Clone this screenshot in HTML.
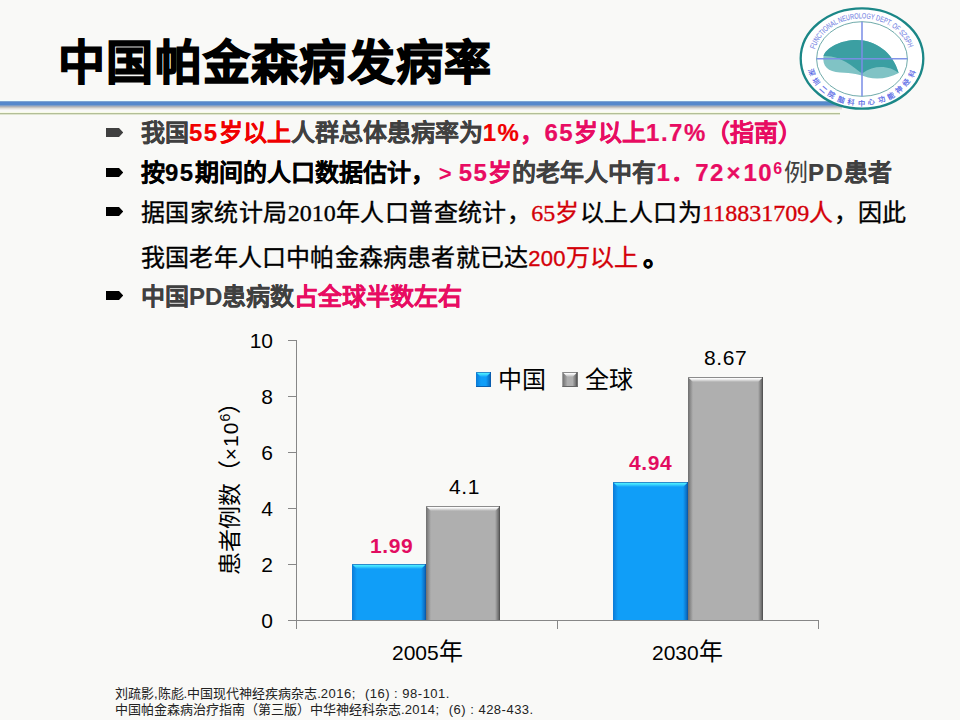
<!DOCTYPE html>
<html lang="zh-CN"><head><meta charset="utf-8">
<style>
html,body{margin:0;padding:0;}
body{width:960px;height:720px;position:relative;overflow:hidden;background:#f9f9f7;font-family:"Liberation Sans",sans-serif;}
.a{position:absolute;white-space:nowrap;}
#title{left:58px;top:32.5px;font-size:47px;font-weight:bold;color:#000;line-height:60px;letter-spacing:1.3px;-webkit-text-stroke:1.3px #000;}
.band{position:absolute;left:0;top:100px;width:842px;height:10px;background:linear-gradient(#f0ffff 0 1px,#7ea4d2 1px 2px,#5589cc 2px 5px,#7e9fc6 5px 6px,#a8b0bd 6px 7px,#c8c8c4 7px 8px,#e0e0dc 8px 9px,#eeeeeb 9px 10px);}
.olive{position:absolute;left:0;top:112px;width:840px;height:3px;background:linear-gradient(#f7fbe6 0 1px,#b3be97 1px 2px,#dfe5cf 2px 3px);}
.ln{position:absolute;left:141px;font-size:24px;line-height:30px;white-space:nowrap;}
.b{font-weight:bold;-webkit-text-stroke:0.2px currentColor;}
.l{letter-spacing:1.5px;}
.g{color:#404040;}
.k{color:#000;}
.r{color:#f00000;}
.p{color:#e80c62;}
.ser{font-family:"Liberation Serif",serif;letter-spacing:0.45px;-webkit-text-stroke:0.35px currentColor;}
.d{letter-spacing:0;}
.r2{color:#d40008;}
.bul{position:absolute;left:106px;width:17px;height:9px;}
.ax{position:absolute;background:#878787;}
.yl{position:absolute;font-size:21px;color:#000;text-align:right;width:40px;line-height:20px;}
.vl{font-size:21px;line-height:24px;letter-spacing:0.6px;}
.lg{font-size:24px;line-height:28px;color:#000;}
.cl{font-size:21px;line-height:24px;color:#000;}
.cj{font-size:24px;}
.yt{font-size:23px;line-height:24px;color:#000;transform:translate(-50%,-50%) rotate(-90deg);}
.ref{position:absolute;left:115px;font-size:13px;color:#222;line-height:16px;white-space:nowrap;}
</style></head>
<body>
<div id="title" class="a">中国帕金森病发病率</div>
<div class="band"></div>
<div class="olive"></div>


<!-- logo -->
<svg class="a" style="left:0;top:0" width="960" height="130" viewBox="0 0 960 130">
<defs>
<path id="tp" d="M814.9 49.2 A48.5 40.5 0 0 1 909.1 49.2"/>
<path id="bp" d="M808.1 70.2 A55.5 46.5 0 0 0 915.9 70.2"/>
<clipPath id="inner"><ellipse cx="862" cy="59" rx="45.4" ry="37.3"/></clipPath>
</defs>
<ellipse cx="862" cy="58.5" rx="61.3" ry="50.2" fill="#fff" stroke="#1b8787" stroke-width="2.3"/>
<ellipse cx="862" cy="59" rx="45.4" ry="37.3" fill="none" stroke="#4a9494" stroke-width="0.8"/>
<path d="M823.5 56 C826 48 840 40 857 40 C875 40 893 52 898.7 73 C890 78 878 80 868 77.5 C860 74.5 852 73 840 72.5 C828 72 822 66 823.5 56Z" fill="#80c3c5"/>
<path d="M823.5 56 C826 48 840 40 857 40 C875 40 893 52 898.7 73 C890 66 875 64 862 73.5 C852 66 840 55 823.5 56Z" fill="#3b9fa2"/>
<g stroke="#7b8fe6" stroke-width="1.6" opacity="0.95">
<line x1="862" y1="21.7" x2="862" y2="96.3"/>
<line x1="816.6" y1="58.7" x2="907.4" y2="58.7"/>
</g>
<text font-family="Liberation Sans" font-size="7.6" fill="#7585e4" stroke="#7585e4" stroke-width="0.12"><textPath href="#tp" textLength="119" lengthAdjust="spacingAndGlyphs">FUNCTIONAL NEUROLOGY DEPT. OF SZSPH</textPath></text>
<text font-family="Liberation Serif" font-size="7.2" fill="#5566e6" stroke="#5566e6" stroke-width="0.2"><textPath href="#bp" textLength="136" lengthAdjust="spacing">深圳二院脑科中心功能神经科</textPath></text>
</svg>

<!-- bullets -->
<svg class="bul" style="top:128px" viewBox="0 0 17 9"><path d="M0 0H13L17.2 4.5L13 9H0Z" fill="#404040"/></svg>
<svg class="bul" style="top:168px" viewBox="0 0 17 9"><path d="M0 0H13L17.2 4.5L13 9H0Z" fill="#000"/></svg>
<svg class="bul" style="top:207px" viewBox="0 0 17 9"><path d="M0 0H13L17.2 4.5L13 9H0Z" fill="#000"/></svg>
<svg class="bul" style="top:291px" viewBox="0 0 17 9"><path d="M0 0H13L17.2 4.5L13 9H0Z" fill="#000"/></svg>

<div class="ln b g" style="top:118px">我国<span class="r"><span class="l">55</span>岁以上</span>人群总体患病率为<span class="r l">1%</span><span class="p">，<span class="l">65</span>岁以上<span class="l">1.7%</span><span style="margin-left:-1px">（指南）</span></span></div>
<div class="ln b k" style="top:158px">按<span class="l">95</span>期间的人口数据估计，<span class="p"><span style="display:inline-block;width:24px;font-size:22px;text-indent:4px;-webkit-text-stroke:0;position:relative;top:-0.5px">&gt;</span><span class="l">55</span>岁</span><span class="g">的老年人中有</span><span class="p"><span class="l">1</span>．<span class="l">72</span><span style="margin:0 3px 0 1.5px">×</span><span style="letter-spacing:1.5px">10</span><sup style="font-size:16px;-webkit-text-stroke:0;vertical-align:7px;line-height:0;margin-right:2px">6</sup></span><span class="g" style="font-weight:normal;-webkit-text-stroke:0">例</span><span class="g"><span style="letter-spacing:1.5px">PD</span>患者</span></div>
<div class="ln ser k" style="top:198px">据国家统计局<span class="d">2010</span>年人口普查统计，<span class="r2"><span class="d">65</span>岁</span>以上人口为<span class="r2"><span class="d">118831709</span>人</span>，因此</div>
<div class="ln ser k" style="top:243px;letter-spacing:0.2px">我国老年人口中帕金森病患者就已达<span class="r2"><span class="d" style="font-family:'Liberation Sans',sans-serif;font-size:22px;letter-spacing:0.3px">200</span>万以上</span><span style="margin-left:5px;font-weight:bold;font-size:26px;line-height:0">。</span></div>
<div class="ln b g" style="top:282px">中国PD患病数<span class="p">占全球半数左右</span></div>

<!-- chart -->
<div class="ax" style="left:296px;top:340px;width:1px;height:289px"></div>
<div class="ax" style="left:296px;top:620px;width:523px;height:1px"></div>
<div class="ax" style="left:288px;top:340px;width:8px;height:1px"></div>
<div class="ax" style="left:288px;top:396px;width:8px;height:1px"></div>
<div class="ax" style="left:288px;top:452px;width:8px;height:1px"></div>
<div class="ax" style="left:288px;top:508px;width:8px;height:1px"></div>
<div class="ax" style="left:288px;top:564px;width:8px;height:1px"></div>
<div class="ax" style="left:288px;top:620px;width:8px;height:1px"></div>
<div class="ax" style="left:557px;top:620px;width:1px;height:9px"></div>
<div class="ax" style="left:818px;top:620px;width:1px;height:9px"></div>

<div class="yl" style="left:233px;top:331px">10</div>
<div class="yl" style="left:233px;top:387px">8</div>
<div class="yl" style="left:233px;top:443px">6</div>
<div class="yl" style="left:233px;top:499px">4</div>
<div class="yl" style="left:233px;top:555px">2</div>
<div class="yl" style="left:233px;top:611px">0</div>

<svg class="a" style="left:0;top:0" width="960" height="720" viewBox="0 0 960 720">
<defs><linearGradient id="blueT" x1="0" y1="0" x2="0" y2="1"><stop offset="0" stop-color="#4ae8ff"/><stop offset="0.35" stop-color="#4ae8ff"/><stop offset="1" stop-color="#109ef8"/></linearGradient><linearGradient id="blueL" x1="0" y1="0" x2="1" y2="0"><stop offset="0" stop-color="#0b7ad6"/><stop offset="1" stop-color="#109ef8"/></linearGradient><linearGradient id="blueR" x1="0" y1="0" x2="1" y2="0"><stop offset="0" stop-color="#109ef8"/><stop offset="1" stop-color="#0a5cae"/></linearGradient><linearGradient id="grayT" x1="0" y1="0" x2="0" y2="1"><stop offset="0" stop-color="#fbfbfb"/><stop offset="0.35" stop-color="#fbfbfb"/><stop offset="1" stop-color="#afafaf"/></linearGradient><linearGradient id="grayL" x1="0" y1="0" x2="1" y2="0"><stop offset="0" stop-color="#6e6e6e"/><stop offset="1" stop-color="#afafaf"/></linearGradient><linearGradient id="grayR" x1="0" y1="0" x2="1" y2="0"><stop offset="0" stop-color="#afafaf"/><stop offset="1" stop-color="#555555"/></linearGradient></defs>
<rect x="352" y="564" width="74" height="56" fill="#109ef8"/>
<polygon points="352,564 357,569 357,620 352,620" fill="url(#blueL)"/>
<polygon points="426,564 421,569 421,620 426,620" fill="url(#blueR)"/>
<polygon points="352,564 426,564 421,569 357,569" fill="url(#blueT)"/>
<rect x="352" y="564" width="74" height="1" fill="#2a8ccc"/>
<rect x="425" y="564" width="1" height="56" fill="#0a5cae"/>
<rect x="426" y="506" width="74" height="114" fill="#afafaf"/>
<polygon points="426,506 431,511 431,620 426,620" fill="url(#grayL)"/>
<polygon points="500,506 495,511 495,620 500,620" fill="url(#grayR)"/>
<polygon points="426,506 500,506 495,511 431,511" fill="url(#grayT)"/>
<rect x="426" y="506" width="74" height="1" fill="#8c8c8c"/>
<rect x="499" y="506" width="1" height="114" fill="#555555"/>
<rect x="613" y="482" width="75" height="138" fill="#109ef8"/>
<polygon points="613,482 618,487 618,620 613,620" fill="url(#blueL)"/>
<polygon points="688,482 683,487 683,620 688,620" fill="url(#blueR)"/>
<polygon points="613,482 688,482 683,487 618,487" fill="url(#blueT)"/>
<rect x="613" y="482" width="75" height="1" fill="#2a8ccc"/>
<rect x="687" y="482" width="1" height="138" fill="#0a5cae"/>
<rect x="688" y="377" width="75" height="243" fill="#afafaf"/>
<polygon points="688,377 693,382 693,620 688,620" fill="url(#grayL)"/>
<polygon points="763,377 758,382 758,620 763,620" fill="url(#grayR)"/>
<polygon points="688,377 763,377 758,382 693,382" fill="url(#grayT)"/>
<rect x="688" y="377" width="75" height="1" fill="#8c8c8c"/>
<rect x="762" y="377" width="1" height="243" fill="#555555"/>
<rect x="476" y="372" width="15" height="15" fill="#109ef8"/>
<polygon points="476,372 481,377 481,387 476,387" fill="url(#blueL)"/>
<polygon points="491,372 486,377 486,387 491,387" fill="url(#blueR)"/>
<polygon points="476,372 491,372 486,377 481,377" fill="url(#blueT)"/>
<rect x="476" y="372" width="15" height="1" fill="#2a8ccc"/>
<rect x="490" y="372" width="1" height="15" fill="#0a5cae"/>
<rect x="476" y="386" width="15" height="1" fill="#0a60b0"/>
<rect x="562.5" y="372" width="15.0" height="15" fill="#afafaf"/>
<polygon points="562.5,372 567.5,377 567.5,387 562.5,387" fill="url(#grayL)"/>
<polygon points="577.5,372 572.5,377 572.5,387 577.5,387" fill="url(#grayR)"/>
<polygon points="562.5,372 577.5,372 572.5,377 567.5,377" fill="url(#grayT)"/>
<rect x="562.5" y="372" width="15.0" height="1" fill="#8c8c8c"/>
<rect x="576.5" y="372" width="1" height="15" fill="#555555"/>
<rect x="562.5" y="386" width="15" height="1" fill="#666"/>
</svg>

<!-- value labels -->
<div class="a vl" style="left:370px;top:534px;color:#e20c60;font-weight:bold">1.99</div>
<div class="a vl" style="left:449px;top:475px;color:#000">4.1</div>
<div class="a vl" style="left:629px;top:451px;color:#e20c60;font-weight:bold">4.94</div>
<div class="a vl" style="left:704px;top:346px;color:#000">8.67</div>
<!-- legend -->

<div class="a lg" style="left:498px;top:365.5px">中国</div>

<div class="a lg" style="left:585px;top:365.5px">全球</div>
<!-- category labels -->
<div class="a cl" style="left:392px;top:640px">2005<span class="cj">年</span></div>
<div class="a cl" style="left:652px;top:640px">2030<span class="cj">年</span></div>
<!-- y title -->
<div class="a yt" style="left:229.5px;top:483px">患者例数（<span style="font-size:21px;letter-spacing:1px">×10<sup style="font-size:14px;vertical-align:8px;line-height:0;letter-spacing:0">6</sup></span>）</div>
<!-- references -->
<div class="ref" style="top:686px">刘疏影,陈彪.中国现代神经疾病杂志.<span style="letter-spacing:0.5px">2016;<span style="margin-left:9px">(16) : 98-101.</span></span></div>
<div class="ref" style="top:702px">中国帕金森病治疗指南（第三版）中华神经科杂志.<span style="letter-spacing:0.5px">2014;<span style="margin-left:9px">(6) : 428-433.</span></span></div>
</body></html>
